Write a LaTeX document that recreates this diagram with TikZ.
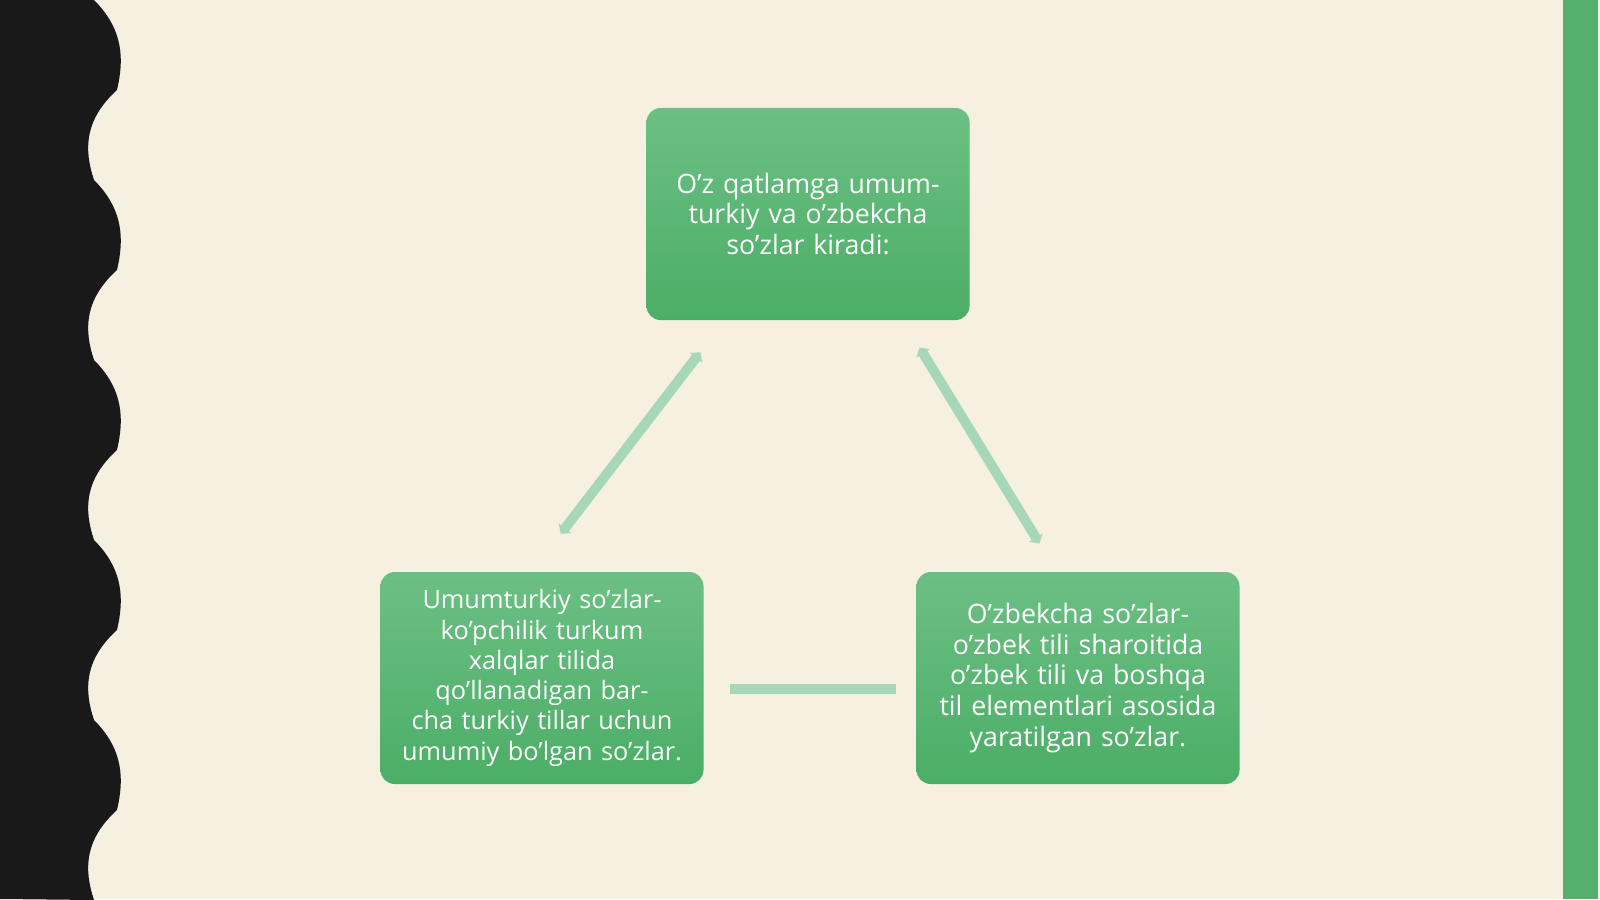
\documentclass[tikz,border=0pt]{standalone}
\usepackage{fontspec}
\setmainfont{Open Sans}
\usepackage{tikz}
\usetikzlibrary{arrows.meta, positioning}
\definecolor{paper}{HTML}{F6F0E1}
\definecolor{boxtop}{HTML}{6CBF84}
\definecolor{boxbot}{HTML}{4BAE66}
\definecolor{link}{HTML}{A7D7B9}
\definecolor{band}{HTML}{55B06E}

\begin{document}
\begin{tikzpicture}[
		x=0.025cm, y=-0.025cm,
		layer/.style={
			rectangle,
			rounded corners=10pt,
			top color=boxtop,
			bottom color=boxbot,
			draw=none,
			minimum width=323*0.025cm,
			minimum height=212*0.025cm,
			text width=290*0.025cm,
			align=center,
			text=white,
			font=\fontsize{19}{22}\selectfont
		},
		link/.style={
			line width=7pt,
			draw=link,
			{Triangle[length=5pt,width=11pt]}-{Triangle[length=5pt,width=11pt]},
			shorten <=2pt, shorten >=2pt
		}
	]
	
	\fill[paper] (0,0) rectangle (1600,899);
	\fill[band] (1563,0) rectangle (1598,899);
	\fill[black!90] (0,0) -- (94,0)
		\foreach \k in {0,...,4} {
			.. controls (124,{\k*180+30}) and (124,{\k*180+60}) .. (117,{\k*180+90})
			.. controls (84,{\k*180+120}) and (84,{\k*180+150}) .. (94,{\k*180+180})
		} -- (0,899) -- cycle;
	
	\node[layer] (top) at (808,214) {O’z qatlamga umumturkiy va o’zbekcha so’zlar kiradi:};
	\node[layer, font=\fontsize{18}{21.5}\selectfont] (left) at (542,678) {Umumturkiy so’zlar-ko’pchilik turkum xalqlar tilida qo’llanadigan barcha turkiy tillar uchun umumiy bo’lgan so’zlar.};
	\node[layer] (right) at (1078,678) {O’zbekcha so’zlar-o’zbek tili sharoitida o’zbek tili va boshqa til elementlari asosida yaratilgan so’zlar.};
	
	\coordinate (la) at (559,536);
	\coordinate (lb) at (702,350);
	\coordinate (ra) at (918,345);
	\coordinate (rb) at (1041,546);
	\coordinate (ha) at (730,689);
	\coordinate (hb) at (896,689);
	
	\draw[link] (la) -- (lb);
	\draw[link] (ra) -- (rb);
	\draw[line width=7pt, draw=link] (ha) -- (hb);
	
\end{tikzpicture}
\end{document}
